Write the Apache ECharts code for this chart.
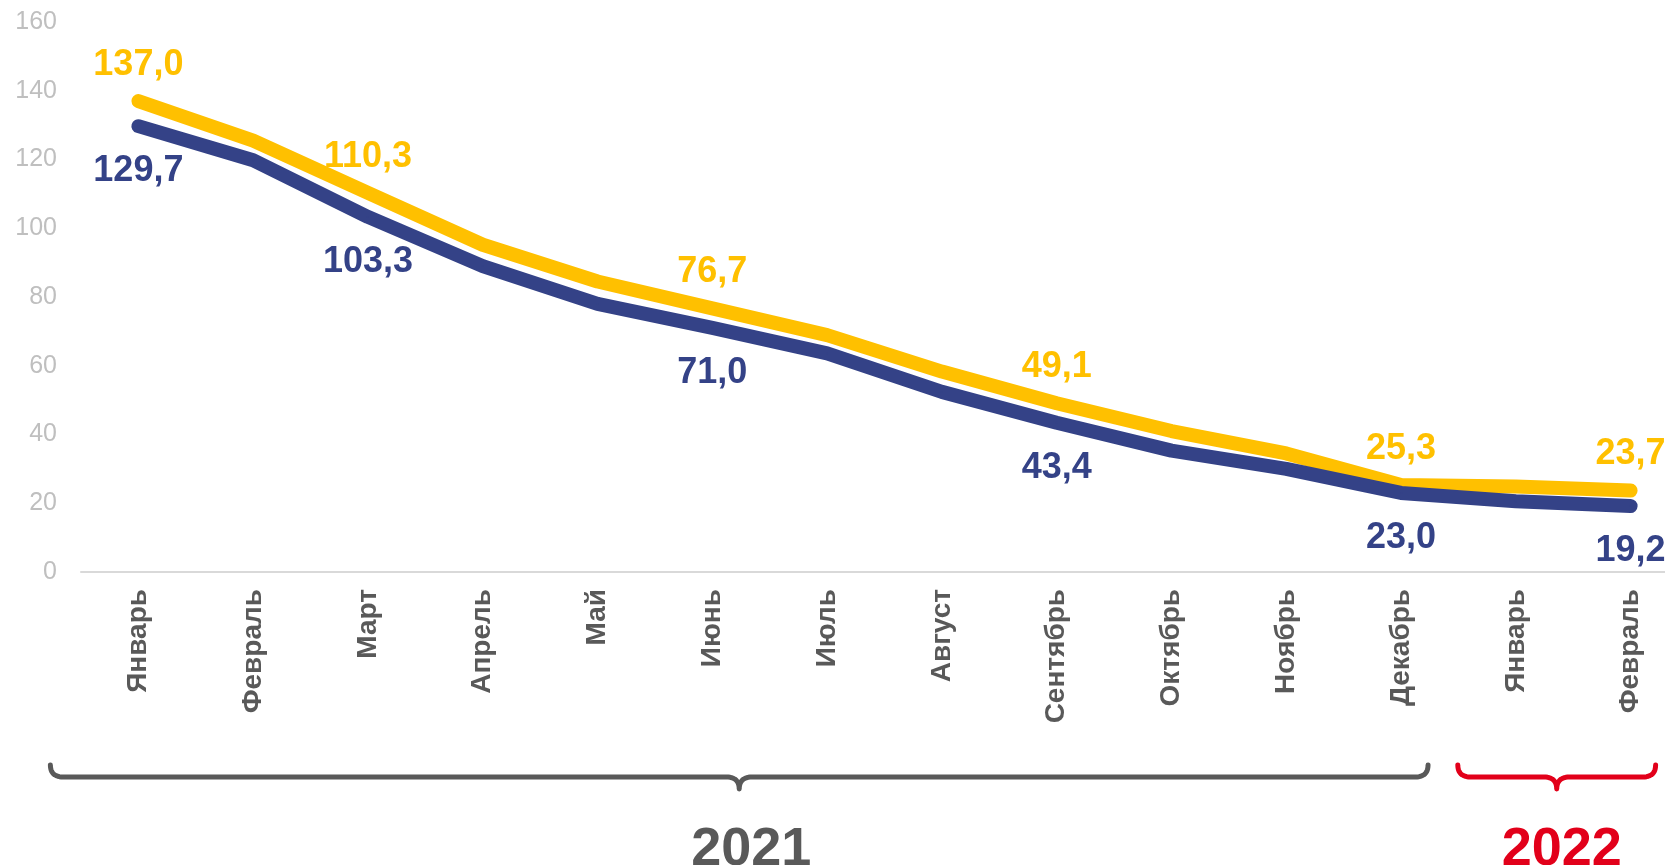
<!DOCTYPE html>
<html>
<head>
<meta charset="utf-8">
<script src="https://cdn.jsdelivr.net/npm/echarts@6/dist/echarts.min.js"></script>
<style>
  html, body { margin: 0; padding: 0; background: #fff; overflow: hidden; }
  #main { width: 1688px; height: 865px; }
</style>
</head>
<body>
<div id="main"></div>
<script>
// months (2021 Jan..Dec, 2022 Jan..Feb)
var months = ['Январь', 'Февраль', 'Март', 'Апрель', 'Май', 'Июнь', 'Июль',
  'Август', 'Сентябрь', 'Октябрь', 'Ноябрь', 'Декабрь', 'Январь', 'Февраль'];
var upperValues = [137.0, 125.5, 110.3, 95.2, 84.5, 76.7, 68.9, 58.3, 49.1, 41.0, 34.5, 25.3, 24.9, 23.7];
var lowerValues = [129.7, 119.8, 103.3, 89.0, 78.0, 71.0, 63.6, 52.4, 43.4, 35.3, 30.0, 23.0, 20.6, 19.2];
var labeledIdx = [0, 2, 5, 8, 11, 13];
var yTicks = [0, 160, 20]; // min, max, step
var years = ['2021', '2022'];
var yearFrom = [0, 12];
var yearTo = [11, 13];

var YELLOW = '#FFC000';
var BLUE = '#344287';
var yearColors = ['#595959', '#E2001A'];
var FONT = '"Liberation Sans", Arial, sans-serif';

function fmt(v) {
  return v.toFixed(1).replace('.', ',');
}

function buildData(values) {
  return values.map(function (v, i) {
    return { value: v, label: { show: labeledIdx.indexOf(i) >= 0 } };
  });
}

var chart = echarts.init(document.getElementById('main'));

var option = {
  animation: false,
  textStyle: { fontFamily: FONT },
  // the plot runs a little past the right edge of the window, like the original
  grid: { left: 81, right: 0, top: 22, bottom: 293, containLabel: false },
  xAxis: {
    type: 'category',
    data: months,
    boundaryGap: true,
    axisLine: { show: true, lineStyle: { color: '#D9D9D9', width: 2 } },
    axisTick: { show: false },
    axisLabel: {
      rotate: 90,
      interval: 0,
      margin: 17,
      color: '#595959',
      fontSize: 28,
      fontWeight: 'bold',
      fontFamily: FONT
    },
    splitLine: { show: false }
  },
  yAxis: {
    type: 'value',
    min: yTicks[0],
    max: yTicks[1],
    interval: yTicks[2],
    axisLine: { show: false },
    axisTick: { show: false },
    splitLine: { show: false },
    axisLabel: { color: '#BFBFBF', fontSize: 25, margin: 24, fontFamily: FONT }
  },
  series: [
    {
      type: 'line',
      data: buildData(upperValues),
      symbol: 'circle',
      symbolSize: 2,
      itemStyle: { color: YELLOW },
      lineStyle: { color: YELLOW, width: 14, cap: 'round', join: 'round' },
      label: {
        position: 'top',
        distance: 17,
        color: YELLOW,
        fontSize: 36,
        fontWeight: 'bold',
        fontFamily: FONT,
        formatter: function (p) { return fmt(p.value); }
      },
      z: 2
    },
    {
      type: 'line',
      data: buildData(lowerValues),
      symbol: 'circle',
      symbolSize: 2,
      itemStyle: { color: BLUE },
      lineStyle: { color: BLUE, width: 14, cap: 'round', join: 'round' },
      label: {
        position: 'bottom',
        distance: 26,
        color: BLUE,
        fontSize: 36,
        fontWeight: 'bold',
        fontFamily: FONT,
        formatter: function (p) { return fmt(p.value); }
      },
      z: 3
    }
  ]
};

chart.setOption(option);

// curly braces + year captions under the axis
function quad(pts, p0, c, p1) {
  for (var t = 1; t <= 12; t++) {
    var s = t / 12;
    pts.push([
      (1 - s) * (1 - s) * p0[0] + 2 * (1 - s) * s * c[0] + s * s * p1[0],
      (1 - s) * (1 - s) * p0[1] + 2 * (1 - s) * s * c[1] + s * s * p1[1]
    ]);
  }
}

function bracePoints(x0, x1, yTop, yMid, yTip, r) {
  var m = (x0 + x1) / 2;
  var pts = [[x0, yTop]];
  quad(pts, [x0, yTop], [x0, yMid], [x0 + r, yMid]);
  pts.push([m - r, yMid]);
  quad(pts, [m - r, yMid], [m, yMid], [m, yTip]);
  quad(pts, [m, yTip], [m, yMid], [m + r, yMid]);
  pts.push([x1 - r, yMid]);
  quad(pts, [x1 - r, yMid], [x1, yMid], [x1, yTop]);
  return pts;
}

var padLeft = [88, 58];
var padRight = [27, 25];
var textShift = [12, 5];
var graphics = [];
years.forEach(function (y, k) {
  var xa = chart.convertToPixel({ xAxisIndex: 0 }, yearFrom[k]) - padLeft[k];
  var xb = chart.convertToPixel({ xAxisIndex: 0 }, yearTo[k]) + padRight[k];
  graphics.push({
    type: 'polyline',
    shape: { points: bracePoints(xa, xb, 765, 777, 789, 13) },
    style: { fill: null, stroke: yearColors[k], lineWidth: 5, lineCap: 'round', lineJoin: 'round' }
  });
  graphics.push({
    type: 'text',
    x: (xa + xb) / 2 + textShift[k],
    y: 850,
    style: {
      text: y,
      fill: yearColors[k],
      font: 'bold 54px ' + FONT,
      textAlign: 'center',
      textVerticalAlign: 'middle'
    }
  });
});

chart.setOption({ graphic: graphics });
</script>
</body>
</html>
